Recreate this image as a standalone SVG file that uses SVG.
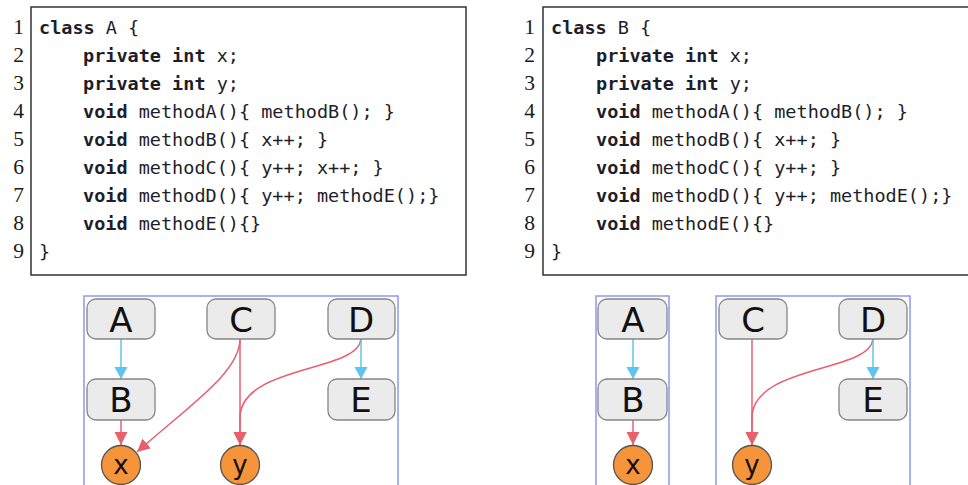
<svg xmlns="http://www.w3.org/2000/svg" width="968" height="485" viewBox="0 0 968 485">
<style>
.box{fill:#fff;stroke:#333;stroke-width:1.5}
.ln{font-family:"Liberation Serif",serif;font-size:21.5px;fill:#1a1a1a;text-anchor:end}
.code{font-family:"DejaVu Sans Mono",monospace;font-size:18.5px;fill:#1e1e2a}
.kw{font-weight:bold}
.frame{fill:none;stroke:#8a98f0;stroke-width:1.5}
.node rect{fill:#ebebeb;stroke:#858585;stroke-width:1.3}
.node text{font-family:"DejaVu Sans",sans-serif;font-size:34px;fill:#111;text-anchor:middle}
.var circle{fill:#f5943a;stroke:#555;stroke-width:1.3}
.var text{font-family:"DejaVu Sans",sans-serif;font-size:26px;fill:#111;text-anchor:middle}
.red{fill:none;stroke:#e8606e;stroke-width:1.5;marker-end:url(#ar)}
.blue{fill:none;stroke:#5ec6ec;stroke-width:1.5;marker-end:url(#ab)}
</style>
<defs>
<marker id="ar" markerUnits="userSpaceOnUse" markerWidth="14" markerHeight="14" refX="13" refY="6.5" orient="auto" viewBox="0 0 14 14"><path d="M0,0 L13,6.5 L0,13 Z" fill="#e8606e"/></marker>
<marker id="ab" markerUnits="userSpaceOnUse" markerWidth="14" markerHeight="14" refX="12" refY="6.5" orient="auto" viewBox="0 0 14 14"><path d="M0,0 L12,6.5 L0,13 Z" fill="#5ec6ec"/></marker>
</defs>

<g id="codeA">
<rect class="box" x="31" y="7" width="435" height="268"/>
<g class="ln">
<text x="24" y="34">1</text><text x="24" y="62">2</text><text x="24" y="90">3</text><text x="24" y="118">4</text><text x="24" y="146">5</text><text x="24" y="174">6</text><text x="24" y="202">7</text><text x="24" y="230">8</text><text x="24" y="258">9</text>
</g>
<g class="code">
<text x="39" y="33.5"><tspan class="kw">class</tspan> A {</text>
<text x="83" y="61.6"><tspan class="kw">private int</tspan> x;</text>
<text x="83" y="89.7"><tspan class="kw">private int</tspan> y;</text>
<text x="83" y="117.8"><tspan class="kw">void</tspan> methodA(){ methodB(); }</text>
<text x="83" y="145.9"><tspan class="kw">void</tspan> methodB(){ x++; }</text>
<text x="83" y="174"><tspan class="kw">void</tspan> methodC(){ y++; x++; }</text>
<text x="83" y="202.1"><tspan class="kw">void</tspan> methodD(){ y++; methodE();}</text>
<text x="83" y="230.2"><tspan class="kw">void</tspan> methodE(){}</text>
<text x="39" y="258.3">}</text>
</g>
</g>

<g id="codeB">
<rect class="box" x="543" y="7" width="430" height="268"/>
<g class="ln">
<text x="535" y="34">1</text><text x="535" y="62">2</text><text x="535" y="90">3</text><text x="535" y="118">4</text><text x="535" y="146">5</text><text x="535" y="174">6</text><text x="535" y="202">7</text><text x="535" y="230">8</text><text x="535" y="258">9</text>
</g>
<g class="code">
<text x="551" y="33.5"><tspan class="kw">class</tspan> B {</text>
<text x="596" y="61.6"><tspan class="kw">private int</tspan> x;</text>
<text x="596" y="89.7"><tspan class="kw">private int</tspan> y;</text>
<text x="596" y="117.8"><tspan class="kw">void</tspan> methodA(){ methodB(); }</text>
<text x="596" y="145.9"><tspan class="kw">void</tspan> methodB(){ x++; }</text>
<text x="596" y="174"><tspan class="kw">void</tspan> methodC(){ y++; }</text>
<text x="596" y="202.1"><tspan class="kw">void</tspan> methodD(){ y++; methodE();}</text>
<text x="596" y="230.2"><tspan class="kw">void</tspan> methodE(){}</text>
<text x="551" y="258.3">}</text>
</g>
</g>

<g id="frames">
<rect class="frame" x="84" y="296" width="314" height="200"/>
<rect class="frame" x="596" y="296" width="73" height="200"/>
<rect class="frame" x="716" y="296" width="194" height="200"/>
</g>

<g id="connectors">
<path class="blue" d="M121,339 L121,379"/>
<path class="red" d="M121,420 L121,445"/>
<path class="red" d="M240,339 C240,372 190,405 137,452"/>
<path class="red" d="M240,339 L240,445"/>
<path class="red" d="M361,339 C358,372 245,365 240,415 L240,445"/>
<path class="blue" d="M361,339 L361,379"/>
<path class="blue" d="M633,339 L633,379"/>
<path class="red" d="M633,420 L633,445"/>
<path class="red" d="M752,339 L752,445"/>
<path class="red" d="M873,339 C870,372 757,365 752,415 L752,445"/>
<path class="blue" d="M873,339 L873,379"/>
</g>

<g id="L-A" class="node"><rect x="87" y="299" width="68" height="40" rx="9"/><text x="121" y="332">A</text></g>
<g id="L-C" class="node"><rect x="207" y="299" width="68" height="40" rx="9"/><text x="241" y="332">C</text></g>
<g id="L-D" class="node"><rect x="328" y="299" width="67" height="40" rx="9"/><text x="361" y="332">D</text></g>
<g id="L-B" class="node"><rect x="87" y="379" width="68" height="41" rx="9"/><text x="121" y="412">B</text></g>
<g id="L-E" class="node"><rect x="328" y="379" width="67" height="41" rx="9"/><text x="361" y="412">E</text></g>
<g id="L-x" class="var"><circle cx="121" cy="465" r="19.5"/><text x="121" y="474">x</text></g>
<g id="L-y" class="var"><circle cx="240" cy="465" r="19.5"/><text x="240" y="474">y</text></g>

<g id="R-A" class="node"><rect x="598" y="299" width="69" height="40" rx="9"/><text x="633" y="332">A</text></g>
<g id="R-B" class="node"><rect x="598" y="379" width="69" height="41" rx="9"/><text x="633" y="412">B</text></g>
<g id="R-C" class="node"><rect x="719" y="299" width="68" height="40" rx="9"/><text x="753" y="332">C</text></g>
<g id="R-D" class="node"><rect x="839" y="299" width="68" height="40" rx="9"/><text x="873" y="332">D</text></g>
<g id="R-E" class="node"><rect x="839" y="379" width="68" height="41" rx="9"/><text x="873" y="412">E</text></g>
<g id="R-x" class="var"><circle cx="633" cy="465" r="19.5"/><text x="633" y="474">x</text></g>
<g id="R-y" class="var"><circle cx="752" cy="465" r="19.5"/><text x="752" y="474">y</text></g>
</svg>
